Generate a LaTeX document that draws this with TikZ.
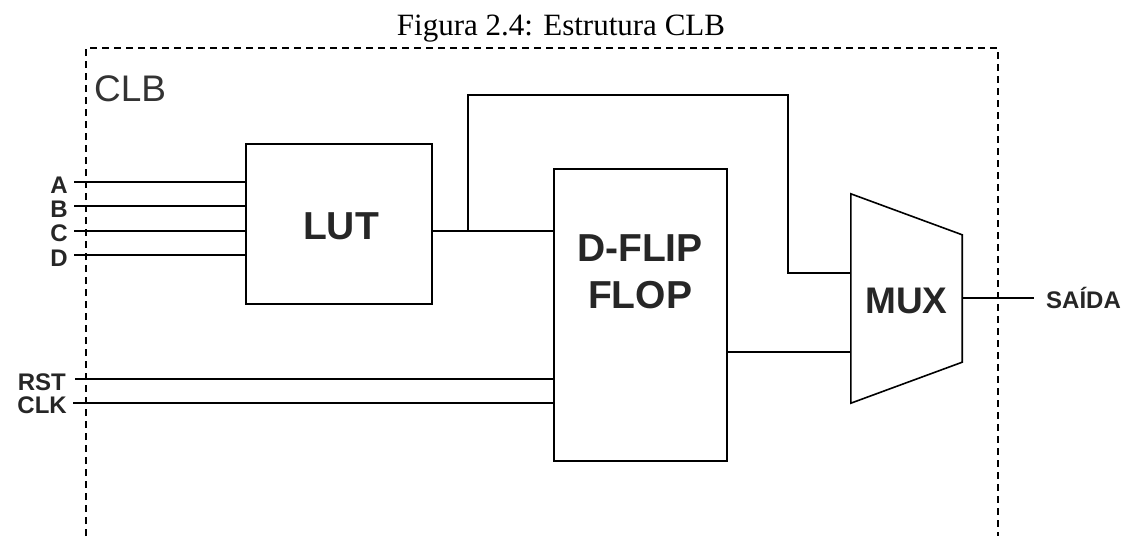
\documentclass[tikz,border=0pt]{standalone}
\usepackage{fontspec}
\setmainfont{Liberation Serif}
\setsansfont{Liberation Sans}
\usetikzlibrary{calc}
\tikzset{
  wire/.style={line width=1.6pt, black},
  blockbox/.style={draw, line width=1.6pt, inner sep=0pt},
  boundary/.style={line width=1.4pt, dash pattern=on 7pt off 5pt},
  pinlabel/.style={font=\sffamily\bfseries\fontsize{24}{24}\selectfont, inner sep=0pt, text=black!85},
  bigtext/.style={font=\sffamily\bfseries\fontsize{39}{47}\selectfont, text=black!85, align=center},
}
\begin{document}
\begin{tikzpicture}[x=1pt,y=-1pt]
\useasboundingbox (0,0) rectangle (1129,536);
% caption
\node[font=\fontsize{31}{31}\selectfont, anchor=base, inner sep=0pt] (cap) at (561,35) {Figura 2.4: Estrutura CLB};
% CLB boundary
\coordinate (bl) at (86,536);
\coordinate (tl) at (86,48);
\coordinate (tr) at (998,48);
\coordinate (br) at (998,536);
\draw[boundary] (bl) -- (tl) -- (tr) -- (br);
\node[font=\sffamily\fontsize{37}{37}\selectfont, text=black!80, anchor=base west, inner sep=0pt] (clb) at (94,101) {CLB};
% blocks
\node[blockbox, minimum width=186, minimum height=160] (lut) at (339,224) {};
\node[bigtext, anchor=base, inner sep=0pt] (luttxt) at (341,239) {LUT};
\node[blockbox, minimum width=173, minimum height=292] (ff) at (640.5,315) {};
\node[bigtext, anchor=base, inner sep=0pt] (fftxt) at (640,308) {D-FLIP\\FLOP};
\node[minimum width=111, minimum height=209, inner sep=0pt] (mux) at (906.5,298.5) {};
\draw[wire, line join=miter] (mux.north west) -- ($(mux.north east)+(0,41)$) -- ($(mux.south east)+(0,-41)$) -- (mux.south west) -- cycle;
\node[bigtext, font=\sffamily\bfseries\fontsize{37}{37}\selectfont, anchor=base, inner sep=0pt] (muxtxt) at (906.5,313) {MUX};
% input labels
\node[pinlabel, anchor=base east] (lA) at (68,193) {A};
\node[pinlabel, anchor=base east] (lB) at (68,217) {B};
\node[pinlabel, anchor=base east] (lC) at (68,241) {C};
\node[pinlabel, anchor=base east] (lD) at (68,266) {D};
\node[pinlabel, anchor=base east] (lR) at (66,390) {RST};
\node[pinlabel, anchor=base east] (lK) at (67,413) {CLK};
\coordinate (iA) at (74,182);
\coordinate (iB) at (74,206);
\coordinate (iC) at (74,231);
\coordinate (iD) at (74,255);
\coordinate (iR) at (75,379);
\coordinate (iK) at (73,403);
\draw[wire] (iA) -- (iA -| lut.west);
\draw[wire] (iB) -- (iB -| lut.west);
\draw[wire] (iC) -- (iC -| lut.west);
\draw[wire] (iD) -- (iD -| lut.west);
\draw[wire] (iR) -- (iR -| ff.west);
\draw[wire] (iK) -- (iK -| ff.west);
% LUT output to FF and MUX
\coordinate (lo) at (432,231);
\coordinate (br1) at (468,231);
\draw[wire] (lo) -- (lo -| ff.west);
\draw[wire] (br1) -- (468,95) -- (788,95) -- (788,273) -- (788,273 -| mux.west);
% FF output to MUX
\coordinate (fo) at (727,352);
\draw[wire] (fo) -- (fo -| mux.west);
% MUX output
\coordinate (mo) at (962,298);
\coordinate (oe) at (1034,298);
\draw[wire] (mo) -- (oe);
\node[pinlabel, anchor=base west] (out) at (1046,308) {SAÍDA};
\end{tikzpicture}
\end{document}
